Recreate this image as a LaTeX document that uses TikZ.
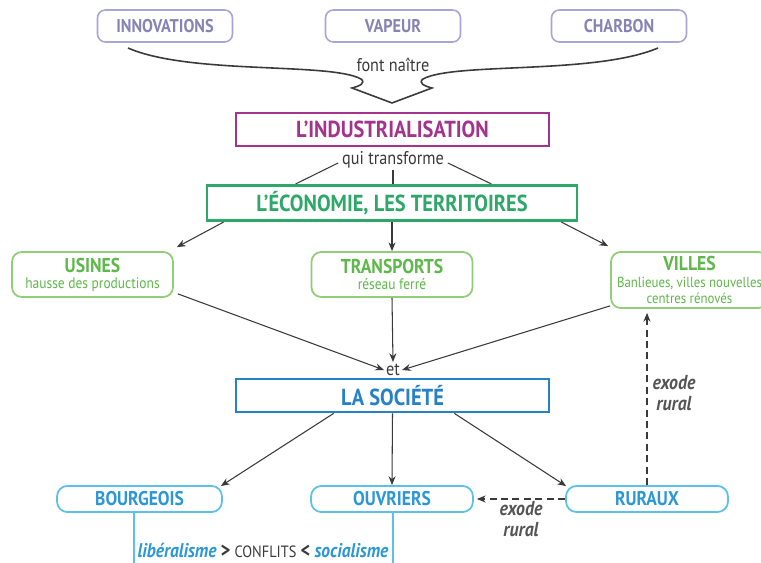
\documentclass[tikz,border=0pt]{standalone}
\usepackage{fontspec}
\setmainfont{PT Sans}[FakeStretch=0.88]
\usepackage{xcolor}
\usetikzlibrary{positioning, calc, arrows.meta}

\definecolor{lavline}{HTML}{A9A5D6}
\definecolor{lavtext}{HTML}{8784B4}
\definecolor{indcol}{HTML}{A2348D}
\definecolor{ecocol}{HTML}{2EA769}
\definecolor{subline}{HTML}{92CD78}
\definecolor{subtext}{HTML}{5FB84A}
\definecolor{soccol}{HTML}{2682C4}
\definecolor{grpline}{HTML}{5CC1EA}
\definecolor{grptext}{HTML}{2B97D4}
\definecolor{linkcol}{HTML}{3A3A3A}
\definecolor{exodcol}{HTML}{555555}

\begin{document}
\begin{tikzpicture}[x=0.02cm, y=-0.02cm,
    srcbox/.style={draw=lavline, line width=0.9pt, rounded corners=4.5pt, text=lavtext,
      font=\fontsize{10.5}{12}\selectfont\bfseries, minimum width=2.7cm, minimum height=0.64cm},
    mainbox/.style={draw=#1, text=#1, line width=1.6pt, minimum width=6.26cm, minimum height=0.66cm,
      font=\fontsize{13.2}{15}\selectfont\bfseries},
    subbox/.style={draw=subline, line width=1pt, rounded corners=5.5pt, text=subtext, align=center,
      minimum width=3.22cm, minimum height=0.9cm, inner sep=1pt, font=\fontsize{8.7}{9.2}\selectfont},
    grpbox/.style={draw=grpline, line width=1pt, rounded corners=6pt, text=grptext,
      font=\fontsize{11.3}{12}\selectfont\bfseries, minimum width=3.3cm, minimum height=0.52cm},
    small/.style={font=\fontsize{10.5}{12}\selectfont, text=linkcol, inner sep=1pt},
    arr/.style={draw=linkcol, line width=0.6pt, -{Stealth[length=5pt,width=4pt]}},
    exod/.style={draw=linkcol, line width=0.9pt, dash pattern=on 4pt off 2.5pt, -{Stealth[length=5pt,width=4pt]}},
    exodlab/.style={font=\fontsize{11.5}{11.5}\selectfont\bfseries\itshape, text=exodcol, align=center, inner sep=1pt}
  ]
    \useasboundingbox[fill=white] (0,0) rectangle (761,563);

    % causes
    \node[srcbox] (innov) at (165,26) {INNOVATIONS};
    \node[srcbox] (vapeur) at (393,26) {VAPEUR};
    \node[srcbox] (charbon) at (619,26) {CHARBON};
    \node[small] (naitre) at (393,65) {font naître};
    \coordinate (tip) at (392,103);
    \draw[linkcol, line width=0.9pt] (128,48) .. controls (190,75) and (330,62) .. (361,79)
      .. controls (366,83) and (360,86) .. (352,88) -- (tip) -- (432,88)
      .. controls (424,86) and (418,83) .. (423,79) .. controls (454,62) and (594,75) .. (658,48);

    % industrialisation
    \node[mainbox=indcol] (indus) at (392.5,129.5) {L’INDUSTRIALISATION};
    \node[small] (qui) at (393,160) {qui transforme};
    \node[mainbox=ecocol, minimum width=7.4cm, minimum height=0.64cm] (eco) at (392,203) {L’ÉCONOMIE, LES TERRITOIRES};
    \draw[linkcol, line width=0.6pt] ($(qui.west)+(-2,3)$) -- ($(eco.north west)+(90,0)$);
    \draw[linkcol, line width=0.6pt] (qui.south) -- (qui.south |- eco.north);
    \draw[linkcol, line width=0.6pt] ($(qui.east)+(2,3)$) -- ($(eco.north east)+(-87,0)$);

    % economie
    \node[subbox] (usines) at (92.5,274.5) {{\fontsize{11.4}{12}\selectfont\bfseries USINES}\\hausse des productions};
    \node[subbox] (transp) at (392,274.5) {{\fontsize{11.4}{12}\selectfont\bfseries TRANSPORTS}\\réseau ferré};
    \node[subbox, minimum width=3.14cm, minimum height=1.12cm, font=\fontsize{8.3}{9.2}\selectfont] (villes) at (689.5,280)
      {{\fontsize{11.4}{12}\selectfont\bfseries VILLES}\\Banlieues, villes nouvelles\\centres rénovés};
    \draw[arr] ($(eco.south west)+(18,0)$) -- ($(usines.north east)+(3,-4)$);
    \draw[arr] (eco.south) -- (transp.north);
    \draw[arr] ($(eco.south east)+(-17,0)$) -- ($(villes.north west)+(-2,-5)$);

    % et
    \node[small] (et) at (393,370) {et};
    \draw[arr] ($(usines.south east)+(4,-4)$) -- (et.west);
    \draw[arr] (transp.south) -- (et.north);
    \draw[arr] ($(villes.south west)+(0,-3)$) -- (et.east);

    % societe
    \node[mainbox=soccol] (soc) at (392.5,395.5) {LA SOCIÉTÉ};
    \node[grpbox] (bourg) at (139.5,499) {BOURGEOIS};
    \node[grpbox, minimum width=3.24cm] (ouv) at (392,499) {OUVRIERS};
    \node[grpbox, minimum width=3.24cm] (rur) at (647,499) {RURAUX};
    \draw[arr] ($(soc.south west)+(99,0)$) -- ($(bourg.north east)+(-2,1)$);
    \draw[arr] (soc.south) -- (ouv.north);
    \draw[arr] ($(soc.south east)+(-96,0)$) -- ($(rur.north west)+(1,1)$);

    % exode rural
    \draw[exod] (rur.west) -- ($(ouv.east)+(3,0)$);
    \node[exodlab] (exod1) at (521,519) {exode\\rural};
    \draw[exod] (rur.north) -- ($(rur.north |- villes.south)+(0,4)$);
    \node[exodlab] (exod2) at (674,393) {exode\\rural};

    % conflits
    \node[inner sep=0pt, anchor=base] (conf) at (263,558)
      {{\fontsize{11.3}{12}\selectfont\itshape\bfseries\color{grptext}libéralisme}
       {\fontsize{12}{12}\selectfont\bfseries\color{linkcol}>}
       {\fontsize{9.3}{12}\selectfont\color{linkcol}CONFLITS}
       {\fontsize{12}{12}\selectfont\bfseries\color{linkcol}<}
       {\fontsize{11.3}{12}\selectfont\itshape\bfseries\color{grptext}socialisme}};
    \coordinate (bend) at (134,563);
    \coordinate (oend) at (393,563);
    \draw[grpline, line width=1pt] (bourg.south -| bend) -- (bend);
    \draw[grpline, line width=1pt] (ouv.south -| oend) -- (oend);
\end{tikzpicture}
\end{document}
